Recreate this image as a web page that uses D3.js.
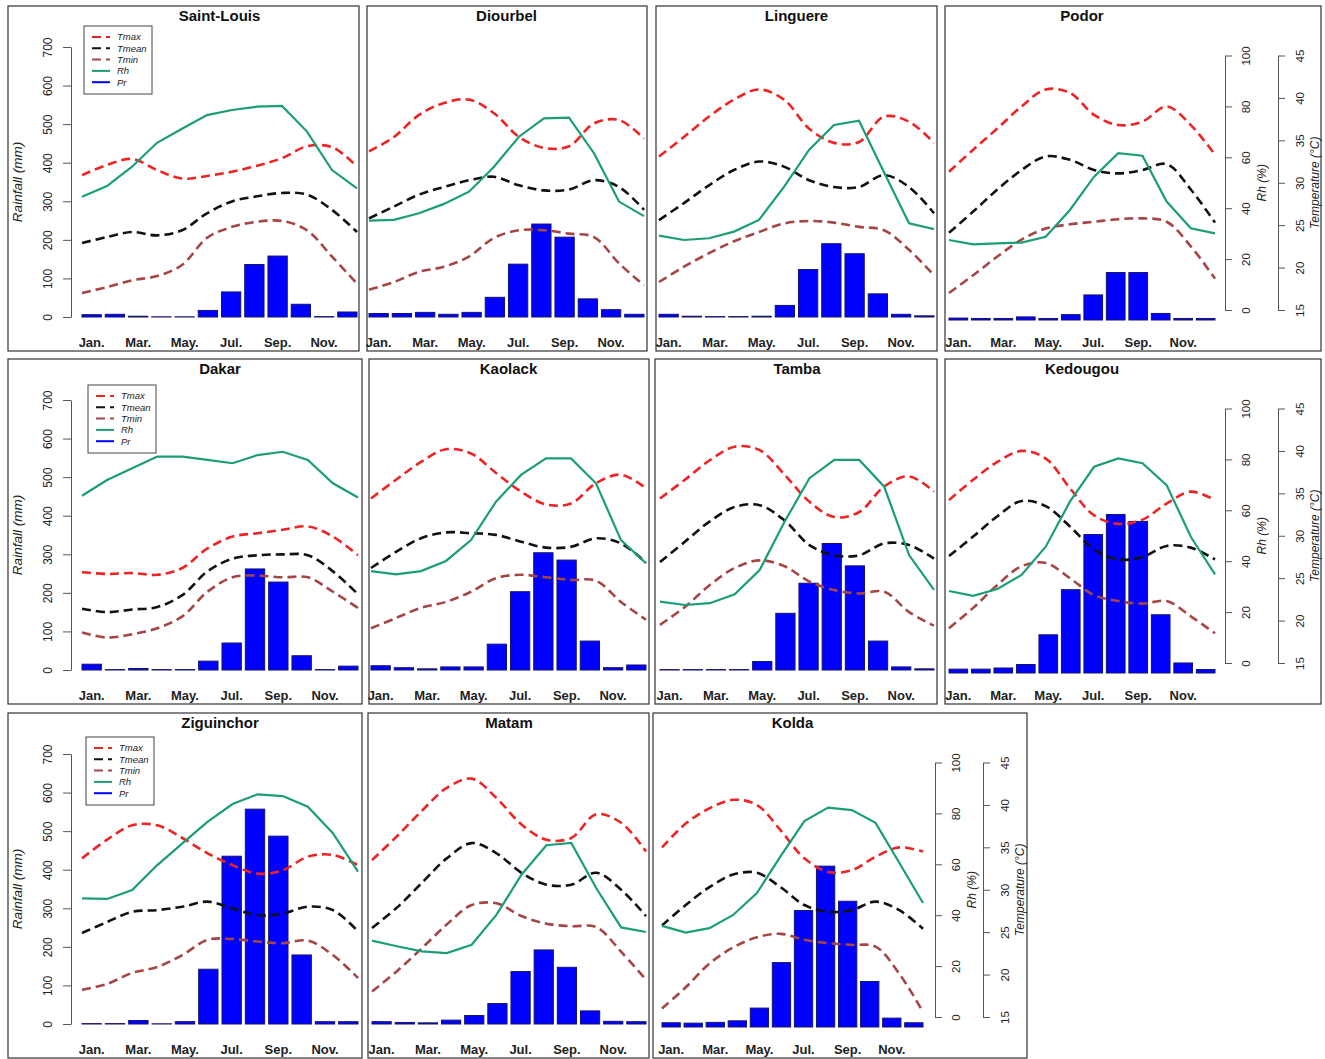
<!DOCTYPE html>
<html lang="en">
<head>
<meta charset="UTF-8">
<script src="https://cdn.jsdelivr.net/npm/d3@7"></script>
<style>
    html, body { margin: 0; padding: 0; background: #fff; overflow: hidden }
    svg { font-family: "Liberation Sans", Arial, Helvetica, sans-serif; }
    .box { fill: none; stroke: #333; stroke-width: 1.2px }
    .axis path, .axis line { stroke: #555; stroke-width: 1px }
    .axis text { fill: #222; font-size: 12px }
    .bar { fill: #0000ff; stroke: #14146e; stroke-width: 1px }
    .title { font-weight: bold; font-size: 15px; fill: #111 }
    .month { font-weight: bold; font-size: 13px; fill: #222 }
    .ylab { font-style: italic; font-size: 13.5px; fill: #222 }
    .legend rect { fill: #fff; stroke: #444; stroke-width: 1px }
    .legend text { font-style: italic; font-size: 9.5px; fill: #222 }
</style>
</head>
<body>
<svg id="graph" width="1325" height="1059"></svg>
<script>
const months = ["Jan.", "Feb.", "Mar.", "Apr.", "May.", "Jun.", "Jul.", "Aug.", "Sep.", "Oct.", "Nov.", "Dec."];
const stations = ["Saint-Louis", "Diourbel", "Linguere", "Podor", "Dakar", "Kaolack", "Tamba", "Kedougou", "Ziguinchor", "Matam", "Kolda"];

// monthly values, one row per station (same order as stations)
const tmax = [
    [30.9, 32.1, 32.8, 31.5, 30.5, 30.8, 31.3, 32.0, 32.9, 34.3, 34.2, 31.9],
    [33.7, 35.4, 38.0, 39.4, 39.8, 38.2, 35.4, 34.1, 34.3, 37.0, 37.4, 35.2],
    [33.1, 35.4, 37.8, 39.8, 41.0, 39.8, 36.4, 34.7, 34.8, 37.8, 37.2, 34.7],
    [31.3, 33.9, 36.4, 39.0, 41.0, 40.6, 38.0, 36.8, 37.2, 39.0, 36.8, 33.3],
    [25.7, 25.5, 25.6, 25.4, 26.2, 28.5, 29.9, 30.3, 30.7, 31.1, 29.9, 27.7],
    [34.4, 36.6, 38.7, 40.2, 39.7, 37.4, 35.2, 33.7, 33.8, 36.2, 37.2, 35.6],
    [34.4, 36.6, 38.9, 40.5, 40.1, 37.2, 34.0, 32.2, 32.8, 35.8, 37.0, 35.2],
    [34.2, 36.6, 38.7, 40.0, 39.1, 35.6, 32.4, 31.4, 31.9, 33.8, 35.2, 34.2],
    [33.7, 35.9, 37.6, 37.6, 36.1, 34.3, 32.9, 31.9, 32.3, 33.9, 34.1, 32.9],
    [33.5, 36.3, 39.3, 42.0, 43.1, 40.8, 37.7, 35.9, 36.1, 38.9, 37.9, 34.5],
    [35.0, 37.8, 39.6, 40.6, 40.0, 37.0, 33.7, 32.1, 32.3, 33.9, 35.0, 34.5]
];
const tmean = [
    [22.9, 23.6, 24.2, 23.8, 24.4, 26.4, 27.8, 28.4, 28.8, 28.6, 26.8, 24.2],
    [25.8, 27.2, 28.6, 29.5, 30.3, 30.7, 29.7, 29.1, 29.2, 30.3, 29.5, 26.8],
    [25.6, 27.6, 29.7, 31.5, 32.5, 31.9, 30.3, 29.5, 29.5, 30.9, 29.5, 26.4],
    [24.1, 26.6, 29.2, 31.5, 33.1, 32.7, 31.5, 31.1, 31.5, 32.2, 29.2, 25.3],
    [21.4, 21.0, 21.3, 21.6, 23.0, 25.8, 27.3, 27.7, 27.8, 27.7, 25.8, 23.1],
    [26.2, 28.1, 29.7, 30.4, 30.3, 30.1, 29.3, 28.6, 28.7, 29.7, 29.1, 26.8],
    [26.9, 29.3, 31.7, 33.4, 33.6, 31.8, 28.9, 27.7, 27.7, 29.1, 28.9, 27.3],
    [27.6, 29.9, 32.3, 34.1, 33.5, 31.1, 28.4, 27.2, 27.5, 28.8, 28.6, 27.2],
    [24.9, 26.2, 27.4, 27.6, 28.0, 28.6, 27.8, 27.0, 27.2, 28.0, 27.6, 25.1],
    [25.5, 27.9, 30.8, 33.7, 35.5, 34.3, 32.0, 30.6, 30.6, 32.0, 30.0, 26.9],
    [25.8, 28.2, 30.3, 31.8, 32.0, 30.3, 28.2, 27.4, 27.6, 28.6, 27.6, 25.4]
];
const tmin = [
    [17.0, 17.7, 18.5, 19.0, 20.3, 23.5, 24.8, 25.4, 25.5, 24.4, 21.3, 18.1],
    [17.4, 18.3, 19.5, 20.1, 21.3, 23.5, 24.4, 24.4, 24.0, 23.6, 20.5, 17.9],
    [18.3, 20.1, 21.7, 23.1, 24.2, 25.2, 25.5, 25.3, 24.8, 24.4, 22.1, 19.1],
    [17.0, 19.1, 21.3, 23.3, 24.6, 25.1, 25.4, 25.7, 25.8, 25.4, 22.5, 18.7],
    [18.6, 18.0, 18.4, 19.1, 20.5, 23.4, 25.1, 25.3, 25.1, 25.1, 23.4, 21.5],
    [19.1, 20.3, 21.5, 22.2, 23.4, 25.0, 25.4, 25.1, 24.8, 24.7, 22.2, 20.1],
    [19.5, 21.6, 24.2, 26.2, 27.1, 26.4, 24.6, 23.6, 23.2, 23.4, 21.0, 19.4],
    [19.1, 21.5, 24.2, 26.4, 26.8, 25.0, 23.0, 22.3, 22.0, 22.3, 20.5, 18.5],
    [18.2, 18.9, 20.2, 20.9, 22.3, 24.1, 24.2, 23.9, 23.7, 24.0, 22.3, 19.6],
    [18.0, 20.4, 23.1, 25.9, 28.2, 28.4, 26.9, 26.0, 25.7, 25.6, 22.7, 19.4],
    [16.0, 18.5, 21.3, 23.2, 24.4, 24.8, 24.1, 23.7, 23.5, 23.3, 20.1, 15.6]
];
const rh = [
    [44.5, 48.7, 56.3, 65.7, 71.2, 76.6, 78.6, 79.9, 80.2, 70.1, 55.0, 47.8],
    [35.1, 35.4, 38.0, 41.7, 46.5, 56.3, 68.1, 75.3, 75.6, 61.6, 42.6, 36.9],
    [29.2, 27.5, 28.2, 30.8, 35.4, 48.4, 62.9, 72.7, 74.4, 54.1, 34.1, 31.8],
    [27.5, 25.8, 26.2, 26.5, 28.8, 39.3, 52.4, 61.6, 60.6, 42.6, 32.1, 30.1],
    [65.7, 71.9, 76.5, 81.1, 81.1, 79.8, 78.5, 81.7, 83.0, 79.8, 70.6, 65.0],
    [36.1, 34.8, 36.1, 40.1, 48.3, 63.4, 73.9, 80.4, 80.4, 70.6, 48.3, 39.2],
    [24.1, 22.8, 23.5, 27.0, 36.5, 55.5, 72.6, 79.8, 79.8, 69.3, 42.4, 28.7],
    [28.3, 26.4, 29.1, 34.6, 45.7, 63.4, 77.1, 80.4, 78.5, 69.9, 49.6, 34.8],
    [46.6, 46.4, 49.9, 59.7, 68.2, 76.7, 83.7, 87.5, 86.8, 82.6, 72.2, 57.1],
    [30.0, 27.8, 25.8, 25.1, 28.4, 40.2, 55.9, 67.5, 68.4, 50.7, 35.2, 33.4],
    [35.8, 33.2, 34.9, 40.1, 48.7, 63.2, 77.0, 82.3, 81.3, 76.3, 60.6, 44.8]
];
const rain = [
    [6, 7, 2, 0.5, 0.5, 17, 65, 136, 158, 33, 1, 13],
    [9, 9, 12, 7, 12, 51, 137, 241, 207, 47, 19, 7],
    [7, 2, 1, 1, 2, 30, 123, 190, 164, 60, 7, 3],
    [5, 4, 4, 8, 4, 14, 65, 123, 123, 17, 4, 4],
    [15, 1, 4, 1, 1, 23, 70, 262, 228, 37, 1, 10],
    [11, 6, 3, 8, 8, 67, 203, 304, 285, 75, 6, 13],
    [1, 1, 1, 1, 22, 147, 225, 328, 270, 75, 8, 3],
    [10, 10, 13, 22, 99, 216, 359, 411, 393, 151, 26, 9],
    [1, 1, 9, 0.5, 6, 142, 435, 557, 487, 179, 6, 6],
    [6, 4, 3, 10, 22, 53, 136, 192, 147, 34, 7, 6],
    [11, 10, 12, 16, 49, 167, 302, 417, 326, 118, 23, 11]
];

const rainTicks = d3.range(0, 701, 100);
const rhTicks = d3.range(0, 101, 20);
const tempTicks = d3.range(15, 46, 5);

const series = [
    { name: "Tmax", values: tmax, color: "#ee2424", dash: "9,5", width: 2.6 },
    { name: "Tmean", values: tmean, color: "#111111", dash: "9,5", width: 2.6 },
    { name: "Tmin", values: tmin, color: "#a54545", dash: "9,5", width: 2.6 },
    { name: "Rh", values: rh, color: "#1b9e77", dash: null, width: 2.2 },
    { name: "Pr", values: null, color: "#0000ff", dash: null, width: 2.2 }
];

// panel placement on the page
const rowTop = [6, 359, 713];
const panels = [
    { row: 0, box: [8, 359], plot: [82, 357], left: 71, legend: [84, 20] },
    { row: 0, box: [367, 647], plot: [369, 644] },
    { row: 0, box: [656, 937], plot: [659, 934] },
    { row: 0, box: [945, 1321], plot: [949, 1215], right: [1225, 1278] },
    { row: 1, box: [8, 362], plot: [82, 358], left: 71, legend: [88, 26] },
    { row: 1, box: [369, 649], plot: [371, 646] },
    { row: 1, box: [655, 937], plot: [660, 934] },
    { row: 1, box: [945, 1321], plot: [949, 1215], right: [1225, 1278] },
    { row: 2, box: [8, 362], plot: [82, 358], left: 71, legend: [86, 24] },
    { row: 2, box: [368, 649], plot: [372, 646] },
    { row: 2, box: [653, 1027], plot: [662, 923], right: [935, 983] }
];

const svg = d3.select("#graph");

function rotateLabels(g, dx) {
    g.selectAll(".tick text")
        .attr("x", null)
        .attr("dy", "0.35em")
        .attr("text-anchor", "middle")
        .attr("transform", `translate(${dx},0) rotate(-90)`);
}

panels.forEach((p, i) => {
    const top = rowTop[p.row];
    const off = p.right ? 3 : 0;
    const g = svg.append("g");

    const yRain = d3.scaleLinear().domain([0, 700]).range([top + 311 + off, top + 41 + off]);
    const yRh = d3.scaleLinear().domain([0, 100]).range([top + 304, top + 49.5]);
    const yT = d3.scaleLinear().domain([15, 45]).range([top + 304, top + 49.5]);
    const xBar = d3.scaleBand().domain(months).range(p.plot).paddingInner(0.17).paddingOuter(0);
    const xPt = d3.scalePoint().domain(months).range(p.plot);

    g.append("rect").attr("class", "box")
        .attr("x", p.box[0]).attr("y", top)
        .attr("width", p.box[1] - p.box[0]).attr("height", 345);

    // rainfall bars
    g.selectAll(".bar").data(rain[i]).join("rect")
        .attr("class", "bar")
        .attr("x", (d, j) => xBar(months[j]))
        .attr("width", xBar.bandwidth())
        .attr("y", d => yRain(d))
        .attr("height", d => yRain(0) - yRain(d));

    // temperature and humidity curves
    series.filter(s => s.values).forEach(s => {
        const yScale = s.name === "Rh" ? yRh : yT;
        const line = d3.line()
            .x((d, j) => xPt(months[j]))
            .y(d => yScale(d))
            .curve(s.name === "Rh" ? d3.curveLinear : d3.curveCatmullRom);
        g.append("path")
            .attr("d", line(s.values[i]))
            .attr("fill", "none")
            .attr("stroke", s.color)
            .attr("stroke-width", s.width)
            .attr("stroke-dasharray", s.dash);
    });

    g.append("text").attr("class", "title")
        .attr("x", (p.plot[0] + p.plot[1]) / 2).attr("y", top + 14.5)
        .attr("text-anchor", "middle")
        .text(stations[i]);

    g.selectAll(".month").data(months.filter((m, j) => j % 2 === 0)).join("text")
        .attr("class", "month")
        .attr("x", m => xBar(m) + xBar.bandwidth() / 2)
        .attr("y", top + 341)
        .attr("text-anchor", "middle")
        .text(m => m);

    if (p.left) {
        const ax = g.append("g").attr("class", "axis")
            .attr("transform", `translate(${p.left},0)`)
            .call(d3.axisLeft(yRain).tickValues(rainTicks).tickSize(8).tickSizeOuter(0));
        ax.select(".domain").attr("fill", "none");
        rotateLabels(ax, -23);
        g.append("text").attr("class", "ylab")
            .attr("transform", `translate(17,${yRain(350)}) rotate(-90)`)
            .attr("dy", "0.35em").attr("text-anchor", "middle")
            .text("Rainfall (mm)");
    }

    if (p.right) {
        const a1 = g.append("g").attr("class", "axis")
            .attr("transform", `translate(${p.right[0]},0)`)
            .call(d3.axisRight(yRh).tickValues(rhTicks).tickSize(7).tickSizeOuter(0));
        a1.select(".domain").attr("fill", "none");
        a1.selectAll("text").style("font-size", "11.5px");
        rotateLabels(a1, 21);
        g.append("text").attr("class", "ylab")
            .style("font-size", "12px")
            .attr("transform", `translate(${p.right[0] + 37},${yRh(50)}) rotate(-90)`)
            .attr("dy", "0.35em").attr("text-anchor", "middle")
            .text("Rh (%)");

        const a2 = g.append("g").attr("class", "axis")
            .attr("transform", `translate(${p.right[1]},0)`)
            .call(d3.axisRight(yT).tickValues(tempTicks).tickSize(7).tickSizeOuter(0));
        a2.select(".domain").attr("fill", "none");
        a2.selectAll("text").style("font-size", "11.5px");
        rotateLabels(a2, 22);
        g.append("text").attr("class", "ylab")
            .style("font-size", "12px")
            .attr("transform", `translate(${p.right[1] + 37},${yT(30)}) rotate(-90)`)
            .attr("dy", "0.35em").attr("text-anchor", "middle")
            .text("Temperature (°C)");
    }

    if (p.legend) {
        const lg = g.append("g").attr("class", "legend")
            .attr("transform", `translate(${p.legend[0]},${top + p.legend[1]})`);
        lg.append("rect").attr("width", 68).attr("height", 68);
        const item = lg.selectAll(".item").data(series).join("g")
            .attr("class", "item")
            .attr("transform", (d, k) => `translate(0,${11 + k * 11.3})`);
        item.append("line")
            .attr("x1", 8).attr("x2", 26)
            .attr("stroke", d => d.color)
            .attr("stroke-width", 2)
            .attr("stroke-dasharray", d => d.dash);
        item.append("text")
            .attr("x", 33).attr("dy", "0.35em")
            .text(d => d.name);
    }
});
</script>
</body>
</html>
